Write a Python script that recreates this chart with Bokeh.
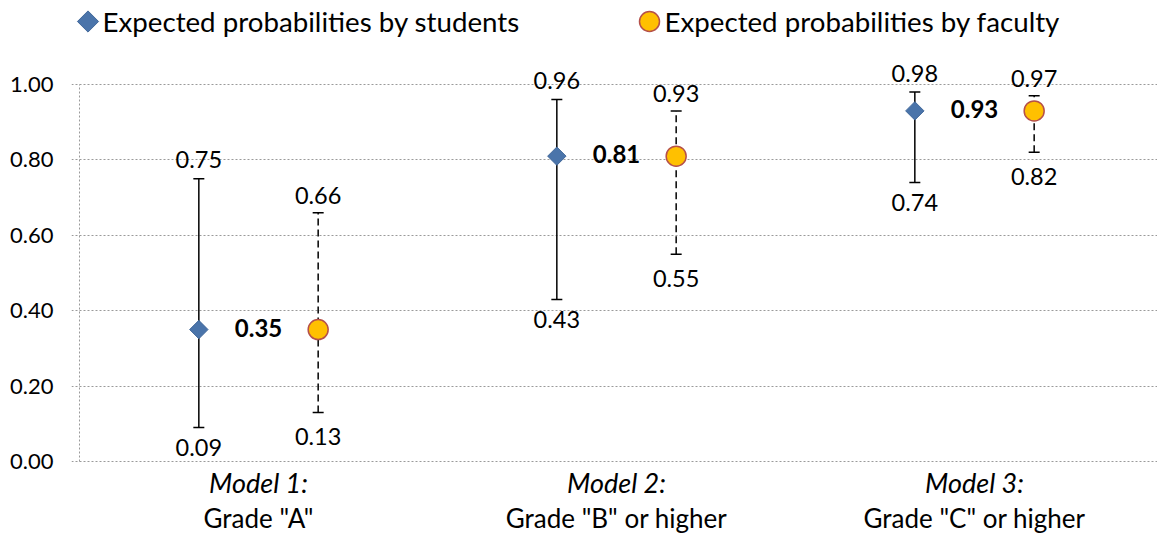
from bokeh.plotting import figure
from bokeh.models import (Range1d, FixedTicker, LinearAxis, Whisker, TeeHead,
                          ColumnDataSource, NumeralTickFormatter)
from bokeh.core.properties import value
from bokeh.embed import file_html
from bokeh.resources import INLINE
import numpy as np

# ---------------- data ----------------
models = ["Model 1:", "Model 2:", "Model 3:"]
grades = ['Grade "A"', 'Grade "B" or higher', 'Grade "C" or higher']
student_mean = [0.35, 0.81, 0.93]
student_low = [0.09, 0.43, 0.74]
student_high = [0.75, 0.96, 0.98]
faculty_mean = [0.35, 0.81, 0.93]
faculty_low = [0.13, 0.55, 0.82]
faculty_high = [0.66, 0.93, 0.97]
legend_labels = ["Expected probabilities by students", "Expected probabilities by faculty"]
y_ticks = [0.0, 0.2, 0.4, 0.6, 0.8, 1.0]

FONT = "Lato"
W, H = 1157, 537
PX_X = 358.0   # px per category
PX_Y = 377.0   # px per unit probability
LEFT, TOP = 71, 0
FRAME_BOTTOM = 463
ZERO_Y = 461   # px of y=0 from top
AXIS_X = 79    # px of x=0 from left

y_end = (ZERO_Y - TOP) / PX_Y
y_start = -(FRAME_BOTTOM - ZERO_Y) / PX_Y
x_start = -(AXIS_X - LEFT) / PX_X
x_end = (W - AXIS_X) / PX_X

p = figure(width=W, height=H, output_backend="svg", toolbar_location=None,
           x_range=Range1d(x_start, x_end), y_range=Range1d(y_start, y_end),
           min_border_left=LEFT, min_border_right=0, min_border_top=TOP,
           min_border_bottom=H - FRAME_BOTTOM, x_axis_type=None)
p.outline_line_color = None
p.background_fill_color = "white"
p.border_fill_color = "white"

centers = np.arange(len(models)) + 0.5
off = 1.0 / 6.0
xs = centers - off
xf = centers + off

# grid
p.xgrid.visible = False
p.ygrid.ticker = FixedTicker(ticks=y_ticks)
p.ygrid.grid_line_color = "#9a9a9a"
p.ygrid.grid_line_dash = "2 2"
p.ygrid.grid_line_width = 1
# vertical axis line (dotted) at x=0 from 0 to 1
p.segment(x0=[0], y0=[y_ticks[0]], x1=[0], y1=[y_ticks[-1]], line_color="#9a9a9a",
          line_dash="2 2", line_width=1)

# y axis
ya = p.yaxis[0]
ya.ticker = FixedTicker(ticks=y_ticks)
ya.formatter = NumeralTickFormatter(format="0.00")
ya.axis_line_color = None
ya.major_tick_line_color = None
ya.minor_tick_line_color = None
ya.major_tick_out = 0
ya.major_tick_in = 0
ya.major_label_text_font = FONT
ya.major_label_text_font_size = "22px"
ya.major_label_text_color = "black"
ya.major_label_standoff = 18

# x axes (two stacked)
xa1 = LinearAxis(ticker=FixedTicker(ticks=list(centers)),
                 major_label_overrides={float(c): m for c, m in zip(centers, models)})
xa2 = LinearAxis(ticker=FixedTicker(ticks=list(centers)),
                 major_label_overrides={float(c): g for c, g in zip(centers, grades)})
for ax, style, size, so in ((xa1, "italic", "27px", 2), (xa2, "normal", "26px", 0)):
    ax.axis_line_color = None
    ax.major_tick_line_color = None
    ax.minor_tick_line_color = None
    ax.major_label_text_font = FONT
    ax.major_label_text_font_size = size
    ax.major_label_text_font_style = style
    ax.major_label_text_color = "black"
    ax.major_label_standoff = so
    ax.major_tick_out = 0
    ax.major_tick_in = 0
    p.add_layout(ax, "below")

# error bars
src_s = ColumnDataSource(dict(x=xs, lo=student_low, hi=student_high, m=student_mean,
                              tl=[f"{v:.2f}" for v in student_low],
                              th=[f"{v:.2f}" for v in student_high]))
src_f = ColumnDataSource(dict(x=xf, lo=faculty_low, hi=faculty_high, m=faculty_mean,
                              tl=[f"{v:.2f}" for v in faculty_low],
                              th=[f"{v:.2f}" for v in faculty_high]))

for src, dash in ((src_s, "solid"), (src_f, "7 4")):
    w = Whisker(source=src, base="x", lower="lo", upper="hi", dimension="height",
                line_color="black", line_width=1.5, line_dash=dash,
                upper_head=TeeHead(size=11, line_color="black", line_width=1.5),
                lower_head=TeeHead(size=11, line_color="black", line_width=1.5))
    p.add_layout(w)

# markers
p.scatter("x", "m", source=src_s, marker="square", angle=np.pi / 4, size=13,
          fill_color="#4A74AA", line_color="#41689A", line_width=1)
p.scatter("x", "m", source=src_f, marker="circle", size=20,
          fill_color="#FFC000", line_color="#B5504A", line_width=1.5)

# value labels
lab = dict(text_font=value(FONT), text_font_size="23.5px", text_color="black",
           text_align="center", text_baseline="alphabetic")
p.text("x", "hi", text="th", source=src_s, y_offset=-19, **lab)
p.text("x", "lo", text="tl", source=src_s, y_offset=20, **lab)
p.text("x", "hi", text="th", source=src_f, y_offset=-17, **lab)
p.text("x", "lo", text="tl", source=src_f, y_offset=24, **lab)
p.text(x=centers, y=student_mean, text=[f"{v:.2f}" for v in student_mean],
       text_font=value(FONT), text_font_size="24px", text_font_style="bold",
       text_color="black", text_align="center", text_baseline="alphabetic", y_offset=-2)

# legend (keys + labels above the plotting area)
leg_y = (ZERO_Y - 21) / PX_Y
p.scatter(x=[(87.5 - AXIS_X) / PX_X], y=[leg_y], marker="square", angle=np.pi / 4,
          size=15, fill_color="#4A74AA", line_color="#41689A", line_width=1)
p.scatter(x=[(649 - AXIS_X) / PX_X], y=[leg_y], marker="circle", size=20,
          fill_color="#FFC000", line_color="#B5504A", line_width=1.5)
p.text(x=[(102 - AXIS_X) / PX_X, (664 - AXIS_X) / PX_X], y=[leg_y, leg_y], text=legend_labels,
       text_font=value(FONT), text_font_size="27.7px", text_color="black",
       text_align="left", text_baseline="alphabetic", y_offset=0)

open("out.html", "w").write(file_html(p, INLINE))
